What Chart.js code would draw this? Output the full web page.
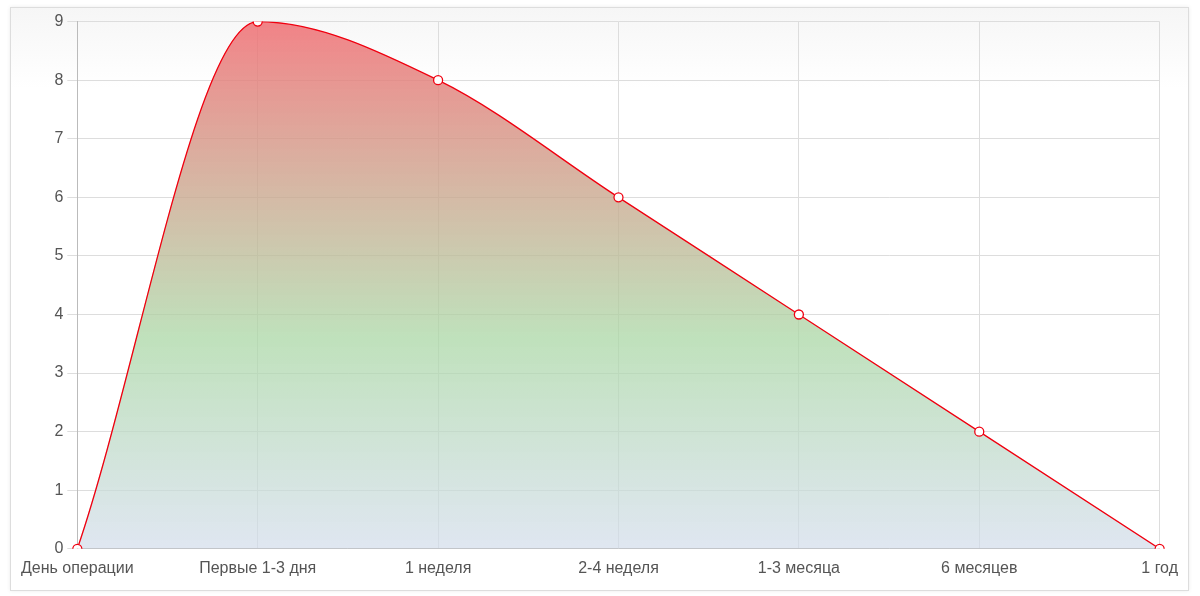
<!DOCTYPE html>
<html><head><meta charset="utf-8">
<script src="https://cdn.jsdelivr.net/npm/chart.js@4/dist/chart.umd.min.js"></script>
<style>
html,body{margin:0;padding:0;background:#fff;}
#box{position:absolute;left:10px;top:7px;width:1177px;height:582px;border:1px solid #ddd;background:linear-gradient(#f6f6f6 0px,#fff 80px);box-shadow:0 0 4px rgba(0,0,0,0.08);}
#c{position:absolute;left:0;top:0;}
</style></head><body>
<div id="box"><canvas id="c" width="1177" height="582"></canvas></div>
<script>
const categories=["День операции","Первые 1-3 дня","1 неделя","2-4 неделя","1-3 месяца","6 месяцев","1 год"];
const values=[0,9,8,6,4,2,0];
const ctx=document.getElementById('c').getContext('2d');
new Chart(ctx,{type:'line',
data:{labels:categories,datasets:[{data:values,borderColor:'#f00010',borderWidth:1.3,
 backgroundColor:(c)=>{const a=c.chart.chartArea;if(!a)return 'rgba(0,0,0,0)';const g=c.chart.ctx.createLinearGradient(0,a.top,0,a.bottom);
 g.addColorStop(0,'rgba(240,110,115,0.85)');g.addColorStop(0.6,'rgba(170,215,165,0.75)');g.addColorStop(1,'rgba(210,220,235,0.7)');return g;},
 fill:true,cubicInterpolationMode:'monotone',pointRadius:4.5,pointBackgroundColor:'#fff',pointBorderColor:'#f00010',pointBorderWidth:1.3}]},
options:{responsive:false,animation:false,plugins:{legend:{display:false},tooltip:{enabled:false}},
 layout:{padding:{left:0,right:24,top:2,bottom:2}},
 scales:{x:{offset:false,grid:{color:'#ddd',drawTicks:false},border:{color:'#bbb'},ticks:{color:'#555',font:{size:16,family:'Liberation Sans'},padding:10,maxRotation:0}},
 y:{min:0,max:9,grid:{color:'#ddd',drawTicks:true,tickLength:10},border:{color:'#bbb'},ticks:{stepSize:1,color:'#555',font:{size:16,family:'Liberation Sans'},padding:4}}}}});
</script></body></html>
